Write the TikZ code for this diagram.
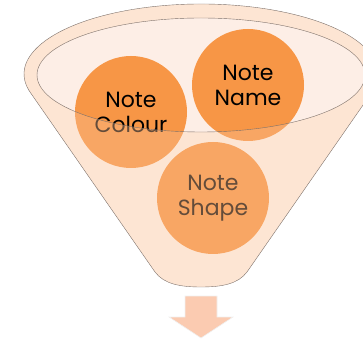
\documentclass[tikz,border=0pt]{standalone}
\usepackage{fontspec}
\newfontfamily\gothic{Poppins}
\definecolor{ballc}{HTML}{F79646}
\definecolor{openc}{HTML}{FDEEE6}
\definecolor{veilc}{HTML}{FABE91}
\definecolor{arrowc}{HTML}{FBCBB1}
\definecolor{edgec}{HTML}{7D716B}
\tikzset{
  ball/.style={circle, fill=ballc, minimum size=112pt, inner sep=0pt, align=center,
    font=\gothic\fontsize{22}{25}\selectfont, text=black},
  rimline/.style={draw=edgec, line width=0.4pt},
}
\begin{document}
\begin{tikzpicture}[x=1pt,y=1pt]
\useasboundingbox (0,0) rectangle (363,342);
\clip (0,0) rectangle (363,342);
% opening of the funnel
\fill[openc] (201,267) ellipse [x radius=164, y radius=57];
% balls
\node[ball] (colour) at (131,230) {Note\\Colour};
\node[ball] (name) at (248,257) {Note\\Name};
\node[ball] (shape) at (213,144) {Note\\Shape};
% translucent funnel body (front), with the opening left free
\fill[veilc, fill opacity=0.4, even odd rule]
  (30.9,248.7) arc[start angle=196, end angle=-16, x radius=177, y radius=70]
  -- (247,70) .. controls (238,58) and (222,55) .. (201,55)
  .. controls (180,55) and (164,58) .. (155,70) -- cycle
  (201,267) ellipse [x radius=164, y radius=57];
% outlines
\draw[rimline]
  (30.9,248.7) arc[start angle=196, end angle=-16, x radius=177, y radius=70]
  -- (247,70) .. controls (238,58) and (222,55) .. (201,55)
  .. controls (180,55) and (164,58) .. (155,70) -- cycle;
\draw[rimline] (201,267) ellipse [x radius=164, y radius=57];
% down arrow
\filldraw[fill=arrowc, draw=white!88!gray, line width=0.6pt]
  (185,46) -- (217,46) -- (217,25) -- (233,25) -- (201,4) -- (169,25) -- (185,25) -- cycle;
\end{tikzpicture}
\end{document}
